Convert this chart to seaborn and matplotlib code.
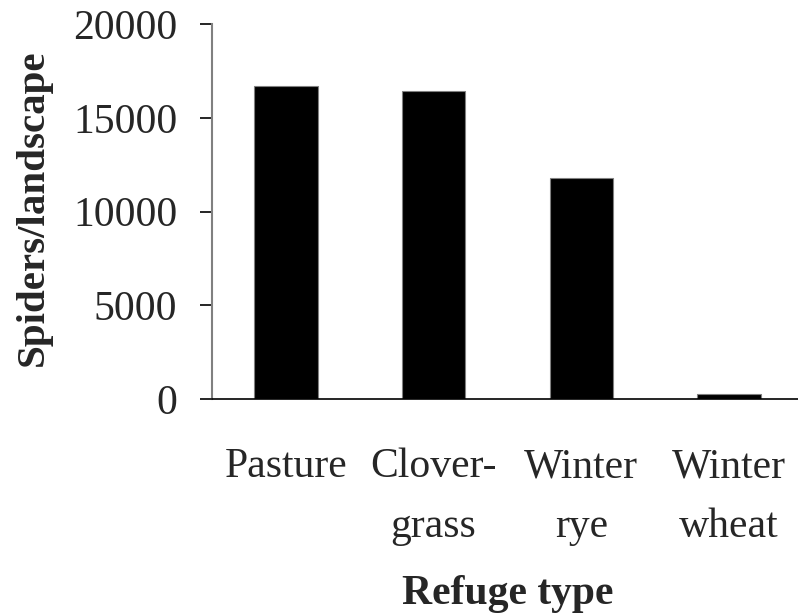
import matplotlib
matplotlib.use("Agg")
import matplotlib.pyplot as plt
import seaborn as sns
import pandas as pd

# data
refuges = ["Pasture", "Clover-\ngrass", "Winter\nrye", "Winter\nwheat"]
spiders = [16720, 16460, 11780, 285]
yticks = [0, 5000, 10000, 15000, 20000]

df = pd.DataFrame({"refuge": refuges, "spiders": spiders})

sns.set_style("white")
plt.rcParams["font.family"] = ["Liberation Serif", "DejaVu Serif"]

fig = plt.figure(figsize=(7.98, 6.14), dpi=100)
ax = fig.add_axes([212 / 798, 1 - 399 / 614, 591 / 798, 374.7 / 614])

sns.barplot(data=df, x="refuge", y="spiders", color="black", width=0.43,
            edgecolor="#808080", linewidth=0.8, saturation=1, ax=ax)

ax.set_xlim(-0.5, 3.5)
ax.set_ylim(0, 20000)
ax.set_yticks(yticks)
ax.set_yticklabels([str(t) for t in yticks], fontsize=30)
ax.tick_params(axis="y", direction="out", length=9, width=1.2, color="black", pad=16, left=True)
ax.tick_params(axis="x", length=0, pad=35)
ax.set_xticks(range(len(refuges)))
ax.set_xticklabels(refuges, fontsize=30, linespacing=1.72)

for s in ["top", "right"]:
    ax.spines[s].set_visible(False)
ax.spines["left"].set_color("#808080")
ax.spines["left"].set_linewidth(1.5)
ax.spines["bottom"].set_color("black")
ax.spines["bottom"].set_linewidth(1.2)

ax.set_ylabel("Spiders/landscape", fontsize=29.5, fontweight="bold")
ax.yaxis.set_label_coords(-0.271, 0.511)
ax.set_xlabel("Refuge type", fontsize=30, fontweight="bold")
ax.xaxis.set_label_coords(0.5, -0.47)

fig.savefig("out.png", dpi=100)
